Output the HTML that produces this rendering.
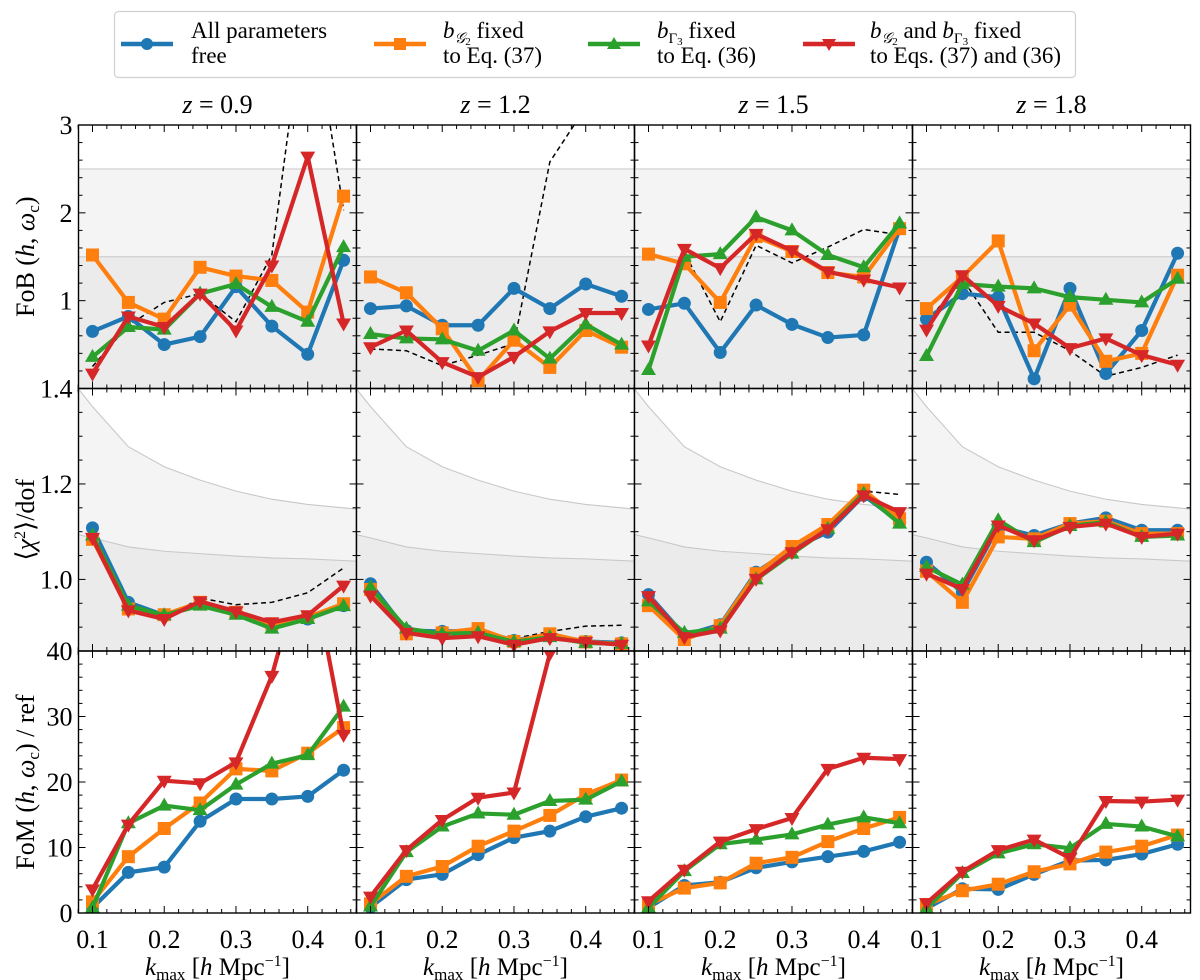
<!DOCTYPE html>
<html><head><meta charset="utf-8"><style>
html,body{margin:0;padding:0;background:#fff;}
svg{display:block;font-family:"Liberation Serif","Times New Roman","DejaVu Serif",serif;}
svg text{font-family:"Liberation Serif","Times New Roman","DejaVu Serif",serif;}
</style></head><body>
<svg id="fig" width="1200" height="980" viewBox="0 0 1200 980" xmlns="http://www.w3.org/2000/svg">
  <g id="legend">
    <rect x="114.5" y="11.5" width="961" height="66" rx="4" fill="#fff" stroke="#d0d0d0" stroke-width="1.2"/>
    <g>
      <line x1="121" y1="44" x2="173" y2="44" stroke="#1f77b4" stroke-width="4.5"/>
      <circle cx="147" cy="44" r="6" fill="#1f77b4"/>
      <text x="191" y="38" font-size="23">All parameters</text>
      <text x="191" y="63" font-size="23">free</text>
    </g>
    <g>
      <line x1="374" y1="44" x2="426" y2="44" stroke="#ff7f0e" stroke-width="4.5"/>
      <rect x="394" y="38" width="12" height="12" fill="#ff7f0e"/>
      <text x="443" y="38" font-size="23"><tspan font-style="italic">b</tspan><tspan font-size="15" dy="5" font-style="italic">𝒢</tspan><tspan font-size="11" dy="2">2</tspan><tspan dy="-7"> fixed</tspan></text>
      <text x="443" y="63" font-size="23">to Eq. (37)</text>
    </g>
    <g>
      <line x1="588" y1="44" x2="640" y2="44" stroke="#2ca02c" stroke-width="4.5"/>
      <polygon points="614,37 621,49 607,49" fill="#2ca02c"/>
      <text x="657" y="38" font-size="23"><tspan font-style="italic">b</tspan><tspan font-size="15" dy="5">Γ</tspan><tspan font-size="11" dy="2">3</tspan><tspan dy="-7"> fixed</tspan></text>
      <text x="657" y="63" font-size="23">to Eq. (36)</text>
    </g>
    <g>
      <line x1="803" y1="44" x2="855" y2="44" stroke="#d62728" stroke-width="4.5"/>
      <polygon points="822,39 836,39 829,51" fill="#d62728"/>
      <text x="870" y="38" font-size="23"><tspan font-style="italic">b</tspan><tspan font-size="15" dy="5" font-style="italic">𝒢</tspan><tspan font-size="11" dy="2">2</tspan><tspan dy="-7"> and </tspan><tspan font-style="italic">b</tspan><tspan font-size="15" dy="5">Γ</tspan><tspan font-size="11" dy="2">3</tspan><tspan dy="-7"> fixed</tspan></text>
      <text x="870" y="63" font-size="23">to Eqs. (37) and (36)</text>
    </g>
  </g>
</svg>
<script>
// ---- data ----
const kValues = [0.1,0.15,0.2,0.25,0.3,0.35,0.4,0.45];
const redshiftLabels = ["0.9","1.2","1.5","1.8"];
// FoB(h, omega_c)
const fobFree = [[0.65,0.82,0.50,0.59,1.16,0.71,0.39,1.46],[0.91,0.94,0.72,0.72,1.14,0.91,1.19,1.05],[0.90,0.97,0.41,0.95,0.73,0.58,0.61,1.82],[0.79,1.08,1.04,0.11,1.14,0.17,0.66,1.54]];
const fobG2 = [[1.52,0.98,0.79,1.38,1.28,1.23,0.87,2.19],[1.27,1.09,0.68,0.09,0.55,0.24,0.66,0.47],[1.53,1.42,0.98,1.73,1.56,1.32,1.27,1.82],[0.91,1.27,1.68,0.43,0.95,0.31,0.40,1.29]];
const fobG3 = [[0.36,0.70,0.67,1.08,1.19,0.93,0.76,1.61],[0.62,0.57,0.56,0.43,0.66,0.34,0.73,0.50],[0.21,1.50,1.53,1.95,1.80,1.52,1.38,1.88],[0.37,1.19,1.16,1.14,1.04,1.01,0.98,1.25]];
const fobBoth = [[0.17,0.82,0.70,1.08,0.66,1.40,2.64,0.74],[0.47,0.66,0.30,0.13,0.36,0.65,0.86,0.86],[0.49,1.59,1.37,1.76,1.57,1.33,1.24,1.15],[0.67,1.29,0.94,0.74,0.46,0.57,0.38,0.27]];
const fobRef = [[0.25,0.72,0.98,1.08,0.76,1.52,4.6,2.03],[0.45,0.43,0.26,0.38,0.51,2.58,3.2,3.6],[0.5,1.55,0.76,1.63,1.43,1.61,1.81,1.75],[0.75,1.25,0.64,0.64,0.43,0.14,0.24,0.38]];
// <chi2>/dof
const chiFree = [[1.108,0.952,0.925,0.951,0.931,0.903,0.917,0.945],[0.991,0.893,0.891,0.893,0.872,0.884,0.870,0.867],[0.968,0.883,0.905,1.015,1.064,1.099,1.176,1.120],[1.036,0.973,1.110,1.092,1.117,1.129,1.103,1.103]];
const chiG2 = [[1.084,0.938,0.926,0.952,0.931,0.907,0.921,0.949],[0.979,0.886,0.888,0.897,0.870,0.886,0.869,0.865],[0.945,0.874,0.903,1.012,1.069,1.115,1.187,1.127],[1.017,0.952,1.089,1.085,1.117,1.122,1.096,1.096]];
const chiG3 = [[1.092,0.945,0.925,0.945,0.926,0.897,0.917,0.944],[0.983,0.897,0.886,0.888,0.869,0.879,0.867,0.865],[0.954,0.888,0.897,1.000,1.054,1.106,1.180,1.117],[1.026,0.989,1.124,1.078,1.112,1.120,1.089,1.092]];
const chiBoth = [[1.087,0.935,0.917,0.954,0.933,0.910,0.925,0.987],[0.966,0.888,0.877,0.881,0.863,0.877,0.869,0.863],[0.965,0.879,0.893,1.001,1.057,1.105,1.176,1.141],[1.012,0.980,1.113,1.082,1.110,1.117,1.089,1.096]];
const chiRef = [[1.087,0.935,0.917,0.961,0.947,0.952,0.972,1.024],[0.966,0.888,0.877,0.881,0.876,0.891,0.902,0.904],[0.965,0.879,0.893,1.001,1.057,1.105,1.185,1.178],[1.012,0.980,1.113,1.082,1.110,1.117,1.089,1.106]];
const chiBandK = [0.08,0.1,0.15,0.2,0.25,0.3,0.35,0.4,0.47];
const chiBand2 = [1.40,1.362,1.278,1.236,1.208,1.185,1.168,1.157,1.147];
const chiBand1 = [1.094,1.087,1.068,1.059,1.054,1.049,1.045,1.043,1.038];
const fobBand2 = 2.5, fobBand1 = 1.5;
// FoM / ref
const fomFree = [[0.8,6.2,7.0,14.0,17.4,17.4,17.8,21.8],[0.9,5.1,5.9,8.9,11.5,12.5,14.7,16.0],[0.8,4.2,4.7,6.9,7.8,8.6,9.4,10.8],[0.7,3.7,3.6,5.9,8.0,8.1,9.0,10.5]];
const fomG2 = [[1.7,8.6,12.9,16.8,22.0,21.7,24.4,28.3],[1.4,5.6,7.1,10.2,12.5,14.9,18.1,20.3],[1.3,3.8,4.6,7.6,8.5,10.9,12.9,14.6],[1.3,3.4,4.4,6.3,7.5,9.3,10.2,11.9]];
const fomG3 = [[0.8,13.7,16.4,15.7,19.6,22.8,24.1,31.5],[1.0,9.3,13.2,15.2,15.0,17.1,17.3,20.1],[0.8,6.4,10.5,11.2,12.0,13.5,14.6,13.7],[0.7,6.1,9.1,10.5,9.9,13.6,13.2,11.7]];
const fomBoth = [[3.6,13.5,20.2,19.8,23.0,36.2,56.0,27.2],[2.5,9.6,14.2,17.6,18.4,39.6,80.0,90.0],[1.8,6.6,10.9,12.8,14.5,22.0,23.7,23.5],[1.5,6.3,9.6,11.2,8.4,17.1,17.0,17.3]];
const xTicks = [0.1,0.2,0.3,0.4];
const fobTicks = [1,2,3];
const chiTicks = [1.0,1.2,1.4];
const fomTicks = [0,10,20,30,40];

// ---- layout ----
const NS = "http://www.w3.org/2000/svg";
const svg = document.getElementById('fig');
const colLeft = [78.5,356.5,634.5,912.5], colW = 278;
const rows = [
  {top:125, bot:388.5, min:0, max:3, major:1, minor:0.2, ticks:fobTicks, fmt:v=>String(v)},
  {top:388.5, bot:651, min:0.85, max:1.4, major:0.2, minor:0.05, ticks:chiTicks, fmt:v=>v.toFixed(1)},
  {top:651, bot:913, min:0, max:40, major:10, minor:2, ticks:fomTicks, fmt:v=>String(v)}
];
const XMIN = 0.0805, XMAX = 0.468;
const COLORS = ['#1f77b4','#ff7f0e','#2ca02c','#d62728'];
const SERIES_NAMES = ['all-free','bg2-fixed','bg3-fixed','both-fixed'];
function mk(tag, attrs, parent){const e=document.createElementNS(NS,tag);for(const k in attrs)e.setAttribute(k,attrs[k]);(parent||svg).appendChild(e);return e;}
function xScale(c,k){return colLeft[c]+(k-XMIN)/(XMAX-XMIN)*colW;}
function yScale(r,v){const R=rows[r];return R.bot-(v-R.min)/(R.max-R.min)*(R.bot-R.top);}

function marker(g, type, x, y, color){
  let m;
  if(type===0) m=mk('circle',{cx:x,cy:y,r:6.5,fill:color},g);
  else if(type===1) m=mk('rect',{x:x-6.5,y:y-6.5,width:13,height:13,fill:color},g);
  else if(type===2) m=mk('polygon',{points:`${x},${y-8} ${x+7.5},${y+5} ${x-7.5},${y+5}`,fill:color},g);
  else m=mk('polygon',{points:`${x-7.5},${y-5} ${x+7.5},${y-5} ${x},${y+8}`,fill:color},g);
  
  
}

const rowSeries = [[fobFree,fobG2,fobG3,fobBoth],[chiFree,chiG2,chiG3,chiBoth],[fomFree,fomG2,fomG3,fomBoth]];
const rowRef = [fobRef, chiRef, null];
const rowNames = ['fob','chi2','fom'];

for(let r=0;r<3;r++){
  const R=rows[r];
  for(let c=0;c<4;c++){
    const L=colLeft[c];
    const g=mk('g',{});
    
    
    const cid=`clip${r}${c}`;
    const cp=mk('clipPath',{id:cid},g);
    mk('rect',{x:L,y:R.top,width:colW,height:R.bot-R.top},cp);
    const inner=mk('g',{'clip-path':`url(#${cid})`},g);
    if(r===0){
      const b2=mk('rect',{x:L,y:yScale(0,fobBand2),width:colW,height:R.bot-yScale(0,fobBand2),fill:'#f4f4f4'},inner);
      
      
      const b1=mk('rect',{x:L,y:yScale(0,fobBand1),width:colW,height:R.bot-yScale(0,fobBand1),fill:'#ebebeb'},inner);
      
      
      mk('line',{x1:L,x2:L+colW,y1:yScale(0,fobBand2),y2:yScale(0,fobBand2),stroke:'#cfcfcf','stroke-width':1.2},inner);
      mk('line',{x1:L,x2:L+colW,y1:yScale(0,fobBand1),y2:yScale(0,fobBand1),stroke:'#cfcfcf','stroke-width':1.2},inner);
    } else if(r===1){
      [[chiBand2,'#f4f4f4','band-2sigma'],[chiBand1,'#ebebeb','band-1sigma']].forEach(([arr,fill,nm])=>{
        let pts=chiBandK.map((k,i)=>`${xScale(c,k)},${yScale(1,arr[i])}`);
        const p=mk('polygon',{points:pts.join(' ')+` ${xScale(c,chiBandK[chiBandK.length-1])},${R.bot} ${xScale(c,chiBandK[0])},${R.bot}`,fill:fill},inner);
        
        
        mk('polyline',{points:pts.join(' '),fill:'none',stroke:'#c8c8c8','stroke-width':1.1},inner);
      });
    }
    if(rowRef[r]){
      const pts=kValues.map((k,i)=>`${xScale(c,k)},${yScale(r,rowRef[r][c][i])}`).join(' ');
      const d=mk('polyline',{points:pts,fill:'none',stroke:'#000','stroke-width':1.5,'stroke-dasharray':'5,3.5'},inner);
      
      
    }
    for(let s=0;s<4;s++){
      const vals=rowSeries[r][s][c];
      const sg=mk('g',{},inner);
      
      
      const pts=kValues.map((k,i)=>`${xScale(c,k)},${yScale(r,vals[i])}`).join(' ');
      mk('polyline',{points:pts,fill:'none',stroke:COLORS[s],'stroke-width':4.2,'stroke-linejoin':'round'},sg);
      kValues.forEach((k,i)=>marker(sg,s,xScale(c,k),yScale(r,vals[i]),COLORS[s]));
    }
    const tg=mk('g',{stroke:'#000','stroke-width':1},g);
    for(let k=0.08;k<=XMAX+1e-9;k+=0.02){
      const kk=Math.round(k*100)/100;
      const maj=Math.abs(kk*10-Math.round(kk*10))<1e-6;
      const len=maj?7:4, x=xScale(c,kk);
      mk('line',{x1:x,x2:x,y1:R.bot,y2:R.bot-len},tg);
      mk('line',{x1:x,x2:x,y1:R.top,y2:R.top+len},tg);
    }
    for(let v=R.min;v<=R.max+1e-9;v+=R.minor){
      const vv=Math.round(v*1000)/1000;
      const q=vv/R.major;
      const maj=Math.abs(q-Math.round(q))<1e-6;
      const len=maj?7:4, y=yScale(r,vv);
      mk('line',{x1:L,x2:L+len,y1:y,y2:y},tg);
      mk('line',{x1:L+colW,x2:L+colW-len,y1:y,y2:y},tg);
    }
    const fr=mk('rect',{x:L,y:R.top,width:colW,height:R.bot-R.top,fill:'none',stroke:'#000','stroke-width':1.4},g);
    
    
    if(c===0){
      R.ticks.forEach(v=>{
        const t=mk('text',{x:L-6,y:yScale(r,v)+9,'font-size':26,'text-anchor':'end'},g);
        t.textContent=R.fmt(v);
        
        
      });
    }
    if(r===2){
      xTicks.forEach(k=>{
        const t=mk('text',{x:xScale(c,k),y:948,'font-size':26,'text-anchor':'middle'},g);
        t.textContent=k.toFixed(1);
        
        
      });
    }
  }
}
for(let c=0;c<4;c++){
  const cx=colLeft[c]+colW/2;
  const t=mk('text',{x:cx,y:113,'font-size':26,'text-anchor':'middle'});
  t.innerHTML=`<tspan font-style="italic">z</tspan> = ${redshiftLabels[c]}`;
  
  
  const xl=mk('text',{x:cx,y:975,'font-size':25,'text-anchor':'middle'});
  xl.innerHTML=`<tspan font-style="italic">k</tspan><tspan font-size="17" dy="5">max</tspan><tspan dy="-5"> [</tspan><tspan font-style="italic">h</tspan> Mpc<tspan font-size="16" dy="-9">−1</tspan><tspan dy="9">]</tspan>`;
  
  
}
const yTitles=[
  [256.75,'FoB (<tspan font-style="italic">h</tspan>, <tspan font-style="italic">ω</tspan><tspan font-size="17" dy="5">c</tspan><tspan dy="-5">)</tspan>','y-axis-title-fob'],
  [519.75,'⟨<tspan font-style="italic">χ</tspan><tspan font-size="16" dy="-9">2</tspan><tspan dy="9">⟩/dof</tspan>','y-axis-title-chi2'],
  [782,'FoM (<tspan font-style="italic">h</tspan>, <tspan font-style="italic">ω</tspan><tspan font-size="17" dy="5">c</tspan><tspan dy="-5">) / ref</tspan>','y-axis-title-fom']
];
yTitles.forEach(([cy,html,nm])=>{
  const t=mk('text',{x:0,y:0,'font-size':26,'text-anchor':'middle',transform:`translate(34,${cy}) rotate(-90)`});
  t.innerHTML=html;
  
  
});
</script>
</body></html>
